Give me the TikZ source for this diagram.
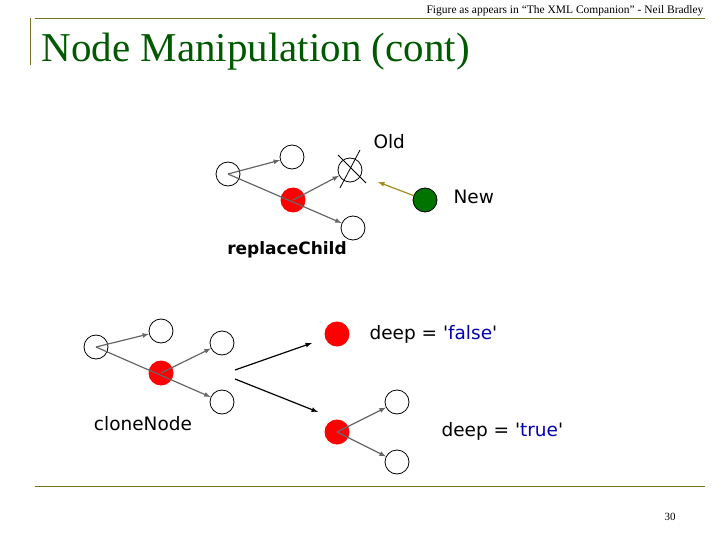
\documentclass[tikz,border=0pt]{standalone}
\usepackage{fontspec}
\setmainfont{Liberation Serif}
\newfontfamily\cf{DejaVu Sans}
\begin{document}
\begin{tikzpicture}[x=1pt,y=-1pt,
  wc/.style={circle,draw,thick,minimum size=24pt,inner sep=0pt},
  rc/.style={circle,fill=red,minimum size=25pt,inner sep=0pt},
  ga/.style={draw=black!60,line width=1.2pt,-latex},
  ba/.style={draw=black,line width=1.2pt,-latex},
  lbl/.style={font=\cf\fontsize{18.5}{20}\selectfont,anchor=west}]
\useasboundingbox (0,0) rectangle (720,540);
\draw[olive!80!black,thick] (35,18) -- (705,18);
\draw[olive!80!black,thick] (30,18) -- (30,65);
\draw[olive!80!black,thick] (35,486) -- (705,486);
\node[anchor=east,font=\fontsize{11.5}{12}\selectfont] (hdr) at (707,11) {Figure as appears in ``The XML Companion'' - Neil Bradley};
\node[anchor=west,font=\fontsize{41}{44}\selectfont,text=green!35!black] (title) at (38,52) {Node Manipulation (cont)};
\node[font=\fontsize{11}{12}\selectfont] (pg) at (670,517) {30};
% top
\node[wc] (a) at (228,174) {};
\node[wc] (b) at (292,157) {};
\node[rc] (c) at (293,200) {};
\node[wc] (old) at (350,170) {};
\node[wc] (d) at (353,228) {};
\node[circle,draw,thick,fill=green!45!black,minimum size=24pt] (new) at (425,200) {};
\draw[thick] (340,188) -- (360,150);
\draw[thick] (338,155) -- (366,183);
\node[lbl] (oldt) at (370,142) {Old};
\node[lbl] (newt) at (450,197) {New};
\node[font=\cf\bfseries\fontsize{17}{18}\selectfont] (rct) at (287,250) {replaceChild};
\draw[ga] (a.center) -- (b);
\draw[ga] (a.center) -- (d);
\draw[ga] (c.center) -- (old);
\coordinate (oe) at (378,182);
\draw[draw=olive!70!brown,line width=1.2pt,-latex] (new) -- (oe);
% bottom
\node[wc] (e) at (96,347) {};
\node[wc] (f) at (161,331) {};
\node[rc] (g) at (161,373) {};
\node[wc] (h) at (222,343) {};
\node[wc] (i) at (222,402) {};
\node[lbl,anchor=center] (cn) at (143,424) {cloneNode};
\draw[ga] (e.center) -- (f);
\draw[ga] (e.center) -- (i);
\draw[ga] (g.center) -- (h);
\node[rc] (j) at (337,334) {};
\node[rc] (k) at (337,432) {};
\node[wc] (l) at (397,402) {};
\node[wc] (m) at (397,462) {};
\draw[ga] (k.center) -- (l);
\draw[ga] (k.center) -- (m);
\coordinate (s1) at (235,370);
\coordinate (s2) at (235,379);
\draw[ba] (s1) -- (312,343) coordinate (t1);
\draw[ba] (s2) -- (318,412) coordinate (t2);
\node[lbl] (df) at (366,334) {deep = '\textcolor{blue!70!black}{false}'};
\node[lbl] (dt) at (438,431) {deep = '\textcolor{blue!70!black}{true}'};
\end{tikzpicture}
\end{document}
